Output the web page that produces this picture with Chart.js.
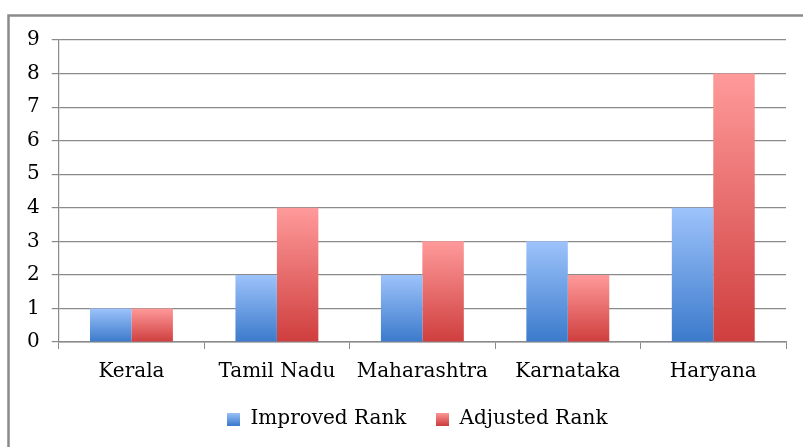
<!DOCTYPE html>
<html>
<head>
<meta charset="utf-8">
<script src="https://cdn.jsdelivr.net/npm/chart.js@4"></script>
<style>
  html, body { margin: 0; padding: 0; background: #fff; overflow: hidden; }
  #wrap { width: 803px; height: 447px; position: relative; }
</style>
</head>
<body>
<div id="wrap"><canvas id="grafik"></canvas></div>
<script>
const states = ['Kerala', 'Tamil Nadu', 'Maharashtra', 'Karnataka', 'Haryana']
const improvedRank = [1, 2, 2, 3, 4]
const adjustedRank = [1, 4, 3, 2, 8]
const yTicks = [0, 1, 2, 3, 4, 5, 6, 7, 8, 9]

const blue = ['#9dc3fb', '#3b7acb']
const red = ['#ff9a9a', '#cf3e3e']
const font = 'DejaVu Serif'

// each bar gets its own top-to-bottom gradient, like the office chart
function barGradient(colors) {
    return function (c) {
        const chart = c.chart
        if (!chart.chartArea || c.parsed == undefined) return colors[1]
        const y = chart.scales.y
        const top = y.getPixelForValue(c.parsed.y)
        const bottom = y.getPixelForValue(0)
        if (bottom - top < 1) return colors[1]
        const g = chart.ctx.createLinearGradient(0, top, 0, bottom)
        g.addColorStop(0, colors[0])
        g.addColorStop(1, colors[1])
        return g
    }
}

function legendSwatch(colors) {
    const cv = document.createElement('canvas')
    cv.width = 13
    cv.height = 13
    const cx = cv.getContext('2d')
    const g = cx.createLinearGradient(0, 0, 0, 13)
    g.addColorStop(0, colors[0])
    g.addColorStop(1, colors[1])
    cx.fillStyle = g
    cx.fillRect(0, 0, 13, 13)
    return cv
}

// grey outer frame + nudge the legend to where the original sits
const frame = {
    id: 'frame',
    afterLayout(chart) {
        const l = chart.legend
        l.left += 17
        l.right += 17
        l.top -= 16
        l.bottom -= 16
    },
    beforeDraw(chart) {
        const ctx = chart.ctx
        ctx.save()
        ctx.strokeStyle = '#8a8a8a'
        ctx.lineWidth = 2.5
        ctx.strokeRect(8.5, 15.5, 1000, 1000)
        ctx.restore()
    }
}

const ctx = document.getElementById('grafik')
const myChart = new Chart(ctx, {
    type: 'bar',
    data: {
        labels: states,
        datasets: [{
            label: 'Improved Rank',
            data: improvedRank,
            backgroundColor: barGradient(blue),
            pointStyle: legendSwatch(blue),
            borderWidth: 0
        }, {
            label: 'Adjusted Rank',
            data: adjustedRank,
            backgroundColor: barGradient(red),
            pointStyle: legendSwatch(red),
            borderWidth: 0
        }]
    },
    options: {
        responsive: true,
        maintainAspectRatio: false,
        animation: false,
        datasets: { bar: { barPercentage: 1, categoryPercentage: 0.57 } },
        layout: { padding: { top: 40, right: 17, left: 15, bottom: -8 } },
        plugins: {
            tooltip: { enabled: false },
            legend: {
                position: 'bottom',
                labels: {
                    usePointStyle: true,
                    color: '#000',
                    font: { family: font, size: 20 },
                    padding: 30,
                    boxWidth: 13
                }
            }
        },
        scales: {
            x: {
                grid: { display: true, drawOnChartArea: false, color: '#8a8a8a', tickLength: 7, offset: true },
                border: { color: '#8a8a8a', width: 1.5 },
                ticks: { color: '#000', font: { family: font, size: 20 }, padding: 11, maxRotation: 0 }
            },
            y: {
                min: 0,
                max: 9,
                afterBuildTicks: (axis) => { axis.ticks = yTicks.map(v => ({ value: v })) },
                grid: { color: '#8a8a8a', lineWidth: 1.2, tickLength: 7 },
                border: { color: '#8a8a8a', width: 1.2 },
                ticks: { color: '#000', font: { family: font, size: 20 }, padding: 12 }
            }
        }
    },
    plugins: [frame]
})
</script>
</body>
</html>
